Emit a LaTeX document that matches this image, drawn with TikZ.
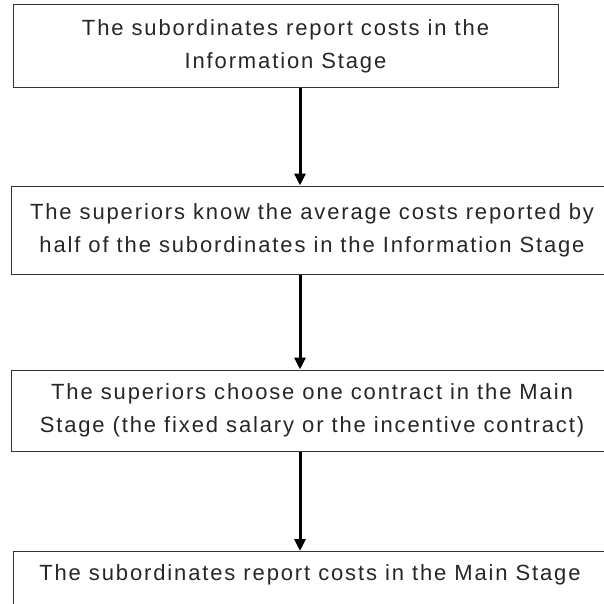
\documentclass[tikz,border=0pt]{standalone}
\usepackage{fontspec}
\setmainfont{Liberation Sans}[LetterSpace=8.5]
\usetikzlibrary{arrows.meta,positioning}

\begin{document}
\begin{tikzpicture}[x=1pt,y=1pt,
  stage/.style={draw=black!80,line width=1pt,align=center,inner sep=0pt,
    text=black!85,font=\fontsize{22}{33}\selectfont},
  flow/.style={line width=3pt,-{Triangle[width=11pt,length=12pt]}}]
  \useasboundingbox (0,0) rectangle (603,-604);
  \draw (285.5,-46.5) node [stage,minimum width=545pt,minimum height=83pt] (report){The subordinates report costs in the\\Information Stage};
  \draw (312,-230) node [stage,minimum width=602pt,minimum height=88pt] (know){The superiors know the average costs reported by\\half of the subordinates in the Information Stage};
  \draw (312,-410.5) node [stage,minimum width=602pt,minimum height=81pt] (choose){The superiors choose one contract in the Main\\Stage (the fixed salary or the incentive contract)};
  \draw (310,-551) node [stage,anchor=north,minimum width=594pt,text height=21pt,text depth=40pt,inner ysep=8pt] (main){The subordinates report costs in the Main Stage};

  % arrows run down one vertical line
  \coordinate (spine) at (300,0);
  \draw
  (report.south -| spine) edge[flow] (know.north -| spine)
  (know.south -| spine)   edge[flow] (choose.north -| spine)
  (choose.south -| spine) edge[flow] (main.north -| spine);
\end{tikzpicture}
\end{document}
